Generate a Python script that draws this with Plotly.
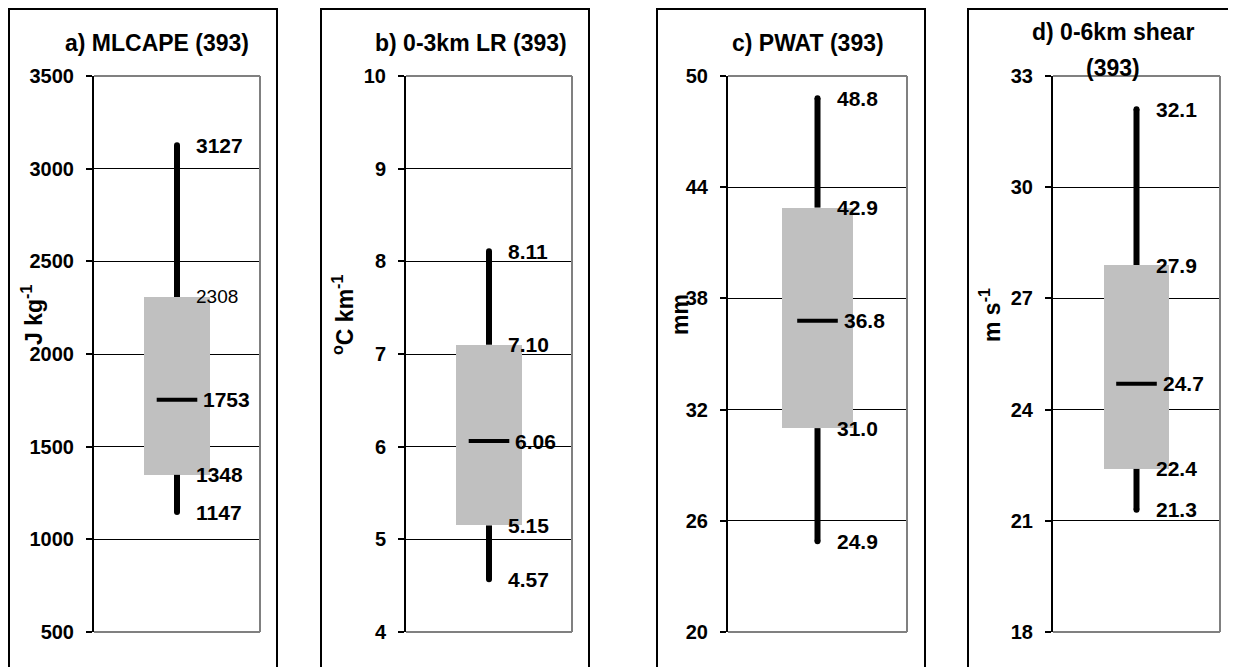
import plotly.graph_objects as go

# ---------------- data ----------------
panel_titles = ["a) MLCAPE (393)", "b) 0-3km LR (393)", "c) PWAT (393)", "d) 0-6km shear"]
panel_title2 = ["", "", "", "(393)"]
unit_labels = ["J kg<sup>-1</sup>", "<sup>o</sup>C km<sup>-1</sup>", "mm", "m s<sup>-1</sup>"]
mins = [1147, 4.57, 24.9, 21.3]
q1s = [1348, 5.15, 31.0, 22.4]
medians = [1753, 6.06, 36.8, 24.7]
q3s = [2308, 7.10, 42.9, 27.9]
maxs = [3127, 8.11, 48.8, 32.1]
label_fmt = ["{:.0f}", "{:.2f}", "{:.1f}", "{:.1f}"]
y_lo = [500, 4, 20, 18]
y_hi = [3500, 10, 50, 33]
y_step = [500, 1, 6, 3]

# ---------------- layout (page pixels) ----------------
PAGE_OFF = 8            # default page margin around the plot div
W, H = 1236 - PAGE_OFF, 667 - PAGE_OFF
plot_left = [94, 406, 728, 1053]
plot_right = [260, 572, 907, 1220]
plot_top, plot_bottom = 76, 632
border_left = [9, 321, 657, 968]
border_right = [277, 589, 925, 1236]
border_top = 9
title_x = [157, 471, 808, 1113]
title_y = [43, 43, 43, 32]
title2_y = 68
unit_x = [32, 343, 680, 990]
unit_y = 315

FONT = "Liberation Sans, Arial, sans-serif"
GRAY_BOX = "#C0C0C0"
FRAME_GRAY = "#808080"


def px(x):
    return (x - PAGE_OFF) / W


def py(y):
    return 1 - (y - PAGE_OFF) / H


fig = go.Figure()
shapes = []
annotations = []

for i in range(4):
    n = "" if i == 0 else str(i + 1)
    xa, ya = "x" + n, "y" + n
    # whiskers (outside the box)
    fig.add_trace(go.Scatter(x=[0, 0, None, 0, 0],
                             y=[mins[i], q1s[i], None, q3s[i], maxs[i]], mode="lines",
                             line=dict(color="black", width=6),
                             xaxis=xa, yaxis=ya, showlegend=False, hoverinfo="skip"))
    # rounded whisker ends
    fig.add_trace(go.Scatter(x=[0, 0], y=[mins[i], maxs[i]], mode="markers",
                             marker=dict(symbol="circle", size=6, color="black"),
                             xaxis=xa, yaxis=ya, showlegend=False, hoverinfo="skip"))
    # interquartile box
    fig.add_trace(go.Bar(x=[0], y=[q3s[i] - q1s[i]], base=[q1s[i]], width=[0.395],
                         marker=dict(color=GRAY_BOX, line=dict(width=0)),
                         xaxis=xa, yaxis=ya, showlegend=False, hoverinfo="skip"))
    # median
    fig.add_trace(go.Scatter(x=[0], y=[medians[i]], mode="markers",
                             marker=dict(symbol="line-ew", size=29,
                                         line=dict(color="black", width=4)),
                             xaxis=xa, yaxis=ya, showlegend=False, hoverinfo="skip"))

    fig.layout["xaxis" + n] = dict(domain=[px(plot_left[i]), px(plot_right[i])],
                                   range=[-0.5, 0.5], visible=False, anchor=ya,
                                   fixedrange=True)
    fig.layout["yaxis" + n] = dict(domain=[py(plot_bottom), py(plot_top)],
                                   range=[y_lo[i], y_hi[i]], tick0=y_lo[i], dtick=y_step[i],
                                   anchor=xa, showgrid=True, gridcolor="black", gridwidth=1,
                                   zeroline=False, showline=True, linecolor="black",
                                   linewidth=2, ticks="outside", ticklen=6, tickwidth=1.5,
                                   tickcolor="black", ticklabelstandoff=8,
                                   tickfont=dict(family=FONT, size=20, color="black",
                                                 weight="bold"),
                                   fixedrange=True)

    # gray plot-area frame (top, right, bottom)
    for (x0, y0, x1, y1) in [(0, 1, 1, 1), (1, 0, 1, 1), (0, 0, 1, 0)]:
        shapes.append(dict(type="line", xref=xa + " domain", yref=ya + " domain",
                           x0=x0, y0=y0, x1=x1, y1=y1,
                           line=dict(color=FRAME_GRAY, width=2), layer="above"))
    # panel border
    shapes.append(dict(type="rect", xref="paper", yref="paper",
                       x0=px(border_left[i]), x1=px(border_right[i]),
                       y0=-0.1, y1=py(border_top),
                       line=dict(color="black", width=2), layer="above"))

    # value labels
    vals = [maxs[i], q3s[i], medians[i], q1s[i], mins[i]]
    for k, v in enumerate(vals):
        bold = not (i == 0 and k == 1)
        annotations.append(dict(xref=xa, yref=ya, x=0, y=v, text=label_fmt[i].format(v),
                                showarrow=False, xanchor="left", yanchor="middle",
                                xshift=24 if k == 2 else 17,
                                font=dict(family=FONT, size=21 if bold else 19,
                                          color="black",
                                          weight="bold" if bold else "normal")))

    # titles
    annotations.append(dict(xref="paper", yref="paper", x=px(title_x[i]), y=py(title_y[i]),
                            text=panel_titles[i], showarrow=False, xanchor="center",
                            yanchor="middle",
                            font=dict(family=FONT, size=23, color="black", weight="bold")))
    if panel_title2[i]:
        annotations.append(dict(xref="paper", yref="paper", x=px(title_x[i]), y=py(title2_y),
                                text=panel_title2[i], showarrow=False, xanchor="center",
                                yanchor="middle",
                                font=dict(family=FONT, size=23, color="black", weight="bold")))
    # unit labels
    annotations.append(dict(xref="paper", yref="paper", x=px(unit_x[i]), y=py(unit_y),
                            text=unit_labels[i], showarrow=False, textangle=-90,
                            xanchor="center", yanchor="middle",
                            font=dict(family=FONT, size=23, color="black", weight="bold")))

fig.update_layout(width=W, height=H, margin=dict(l=0, r=0, t=0, b=0, autoexpand=False),
                  paper_bgcolor="white", plot_bgcolor="white", showlegend=False,
                  shapes=shapes, annotations=annotations, bargap=0)

fig.write_html("out.html", config={"displayModeBar": False})
